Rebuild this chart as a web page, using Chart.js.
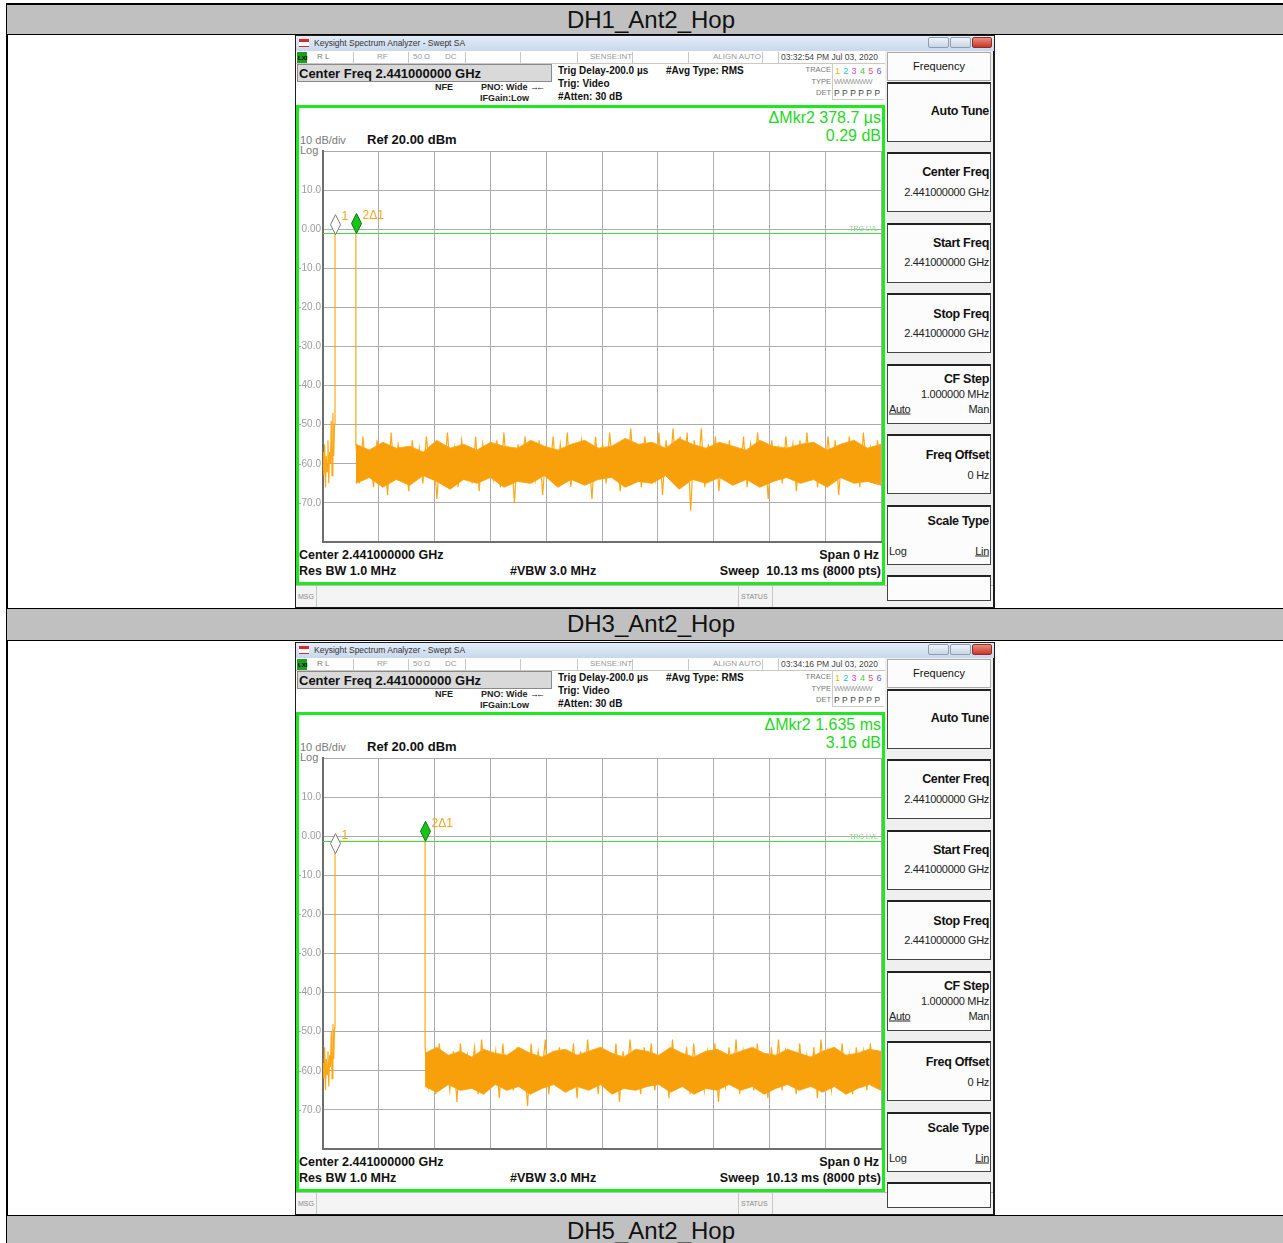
<!DOCTYPE html>
<html>
<head>
<meta charset="utf-8">
<script src="https://cdn.jsdelivr.net/npm/chart.js@4.4.1/dist/chart.umd.min.js"></script>
<style>
body { margin:0; width:1283px; height:1243px; overflow:hidden; background:#fff; position:relative; font-family:"Liberation Sans", Arial, sans-serif; }
.abs { position:absolute; white-space:nowrap; line-height:1; }
.box { position:absolute; box-sizing:border-box; }
.hdr { position:absolute; left:6px; width:1290px; background:#c0c0c0; border:1px solid #000; box-sizing:border-box; text-align:center; font-size:24px; line-height:30px; color:#111; }
.shot { position:absolute; left:295px; width:700px; height:573px; background:#1d1d1d; overflow:hidden; }
.shot canvas { position:absolute; left:3px; top:75px; }
</style>
</head>
<body>
<div class="box" style="left:6px;top:3px;width:2px;height:1240px;background:#000"></div>
<div class="hdr" style="top:3px;height:32px;border-top-width:2px;line-height:29px">DH1_Ant2_Hop</div>
<div class="hdr" style="top:608px;height:33px">DH3_Ant2_Hop</div>
<div class="hdr" style="top:1215px;height:40px">DH5_Ant2_Hop</div>

<script>
// time axis in ms: trig delay -200 us, sweep 10.13 ms; amplitude in dBm, Ref 20 dBm, 10 dB/div
const sweepStart = -0.2;
const sweepEnd = 9.93;
const refLevel = 20;
const bottomLevel = -80;

// DH1 trace
const dh1PreTimes = [-0.2, -0.185, -0.17, -0.155, -0.14, -0.125, -0.11, -0.095, -0.08, -0.065, -0.05, -0.035, -0.02, -0.005, 0.01];
const dh1PreLevels = [-57, -63, -55, -66, -58, -62, -54, -65, -57, -60, -49, -63, -47, -58, -50];
const dh1BurstStart = 0.018;
const dh1BurstEnd = 0.3967;
const dh1Plateau = -1.1;
const dh1Noise = [
  -55, -65, -53, -63, -57, -66, -54, -62, -56, -68,
  -52, -64, -55, -61, -58, -67, -54, -63, -56, -65,
  -53, -62, -57, -69, -55, -63, -52, -64, -56, -66,
  -54, -61, -57, -65, -53, -67, -55, -62, -58, -64,
  -54, -66, -52, -63, -56, -70, -55, -62, -53, -65,
  -57, -64, -54, -68, -56, -62, -53, -65, -55, -63,
  -52, -66, -56, -62, -54, -64, -57, -69, -53, -63,
  -55, -65, -52, -62, -56, -67, -54, -63, -51, -64,
  -55, -66, -53, -62, -57, -64, -52, -68, -54, -63,
  -51, -65, -53, -62, -52, -72, -54, -63, -51, -66,
  -55, -64, -53, -67, -56, -62, -54, -65, -57, -63,
  -53, -66, -55, -62, -52, -64, -56, -69, -54, -63,
  -56, -65, -53, -62, -55, -67, -54, -63, -52, -64,
  -55, -66, -57, -62, -53, -65, -54, -68, -56, -63,
  -53, -64, -55, -66, -52, -62, -56, -65, -54, -63
];
const dh1NoiseTop = [
  -55, -56.5, -54.5, -56, -55.5, -57, -54, -56, -55, -56.5,
  -54.5, -55.5, -56, -54, -55.5, -56.5, -55, -54, -56, -55.5,
  -53.5, -55, -54.5, -56, -53.5, -55, -56, -54.5, -55.5, -56.5,
  -54, -55.5, -56, -55, -54.5, -56.5, -55, -54, -56, -55
];
const dh1NoiseBottom = [
  -65, -63.5, -66, -64, -65.5, -63, -64.5, -66.5, -64, -65,
  -63.5, -66, -64.5, -65, -63, -66, -64, -65.5, -64, -63.5,
  -66, -64.5, -65, -63, -66.5, -64, -65, -63.5, -65.5, -64,
  -66, -64.5, -63.5, -65, -64, -66, -63.5, -65, -64.5, -65.5
];
const dh1MarkerTimes = [0.018, 0.3967];
const dh1MarkerLevels = [-1.4, -1.1];
const dh1TrigLevel = -0.9;

// DH3 trace
const dh3PreTimes = [-0.2, -0.185, -0.17, -0.155, -0.14, -0.125, -0.11, -0.095, -0.08, -0.065, -0.05, -0.035, -0.02, -0.005, 0.01];
const dh3PreLevels = [-58, -62, -54, -65, -57, -61, -55, -64, -56, -59, -50, -62, -48, -57, -49];
const dh3BurstStart = 0.018;
const dh3BurstEnd = 1.653;
const dh3Plateau = -1.3;
const dh3Noise = [
  -54, -64, -56, -66, -53, -62, -57, -65, -55, -68,
  -53, -63, -56, -61, -54, -66, -52, -64, -57, -62,
  -55, -67, -53, -63, -56, -65, -54, -62, -57, -69,
  -53, -64, -55, -62, -52, -66, -56, -63, -54, -65,
  -57, -62, -53, -67, -55, -64, -52, -63, -56, -66,
  -54, -62, -57, -65, -53, -68, -55, -63, -52, -64,
  -56, -66, -54, -62, -53, -65, -57, -63, -55, -67,
  -52, -64, -56, -62, -54, -66, -53, -63, -57, -65,
  -55, -62, -53, -68, -56, -64, -54, -63, -52, -66,
  -55, -62, -57, -65, -53, -64, -56, -67, -54, -63,
  -52, -65, -55, -62, -57, -66, -53, -64, -56, -63,
  -54, -67, -52, -62, -55, -65, -57, -63, -53, -64,
  -56, -66, -54, -62, -55, -65, -53, -63, -56, -64
];
const dh3NoiseTop = [
  -55.5, -54, -56, -55, -56.5, -54.5, -55.5, -56, -54, -55.5,
  -56.5, -55, -54.5, -56, -55, -54, -55.5, -56.5, -54.5, -55,
  -56, -54, -55.5, -56.5, -55, -54.5, -56, -55, -54, -55.5,
  -56, -54.5, -55.5, -56.5, -55, -54, -56, -55.5, -54.5, -55
];
const dh3NoiseBottom = [
  -64, -65.5, -63.5, -65, -64.5, -66, -63.5, -65, -64, -66,
  -64.5, -63.5, -65.5, -64, -65, -63.5, -66, -64.5, -65, -64,
  -63.5, -65.5, -64, -66, -64.5, -65, -63.5, -65, -64, -66,
  -64.5, -63.5, -65, -64, -65.5, -64, -66, -64.5, -63.5, -65
];
const dh3MarkerTimes = [0.018, 1.653];
const dh3MarkerLevels = [-4.46, -1.3];
const dh3TrigLevel = -1.2;

function txt(parent, x, y, s, css, align) {
    const el = document.createElement('div');
    el.className = 'abs';
    el.textContent = s;
    el.style.cssText += css;
    el.style.left = x + 'px';
    el.style.top = y + 'px';
    const tx = align === 'r' ? 'translateX(-100%) ' : align === 'c' ? 'translateX(-50%) ' : '';
    el.style.transform = tx + 'translateY(-50%)';
    parent.appendChild(el);
    return el;
}

function box(parent, x, y, w, h, css) {
    const el = document.createElement('div');
    el.className = 'box';
    el.style.cssText = `left:${x}px;top:${y}px;width:${w}px;height:${h}px;` + css;
    parent.appendChild(el);
    return el;
}

function softkey(p, y, h, title, titleY, lines) {
    box(p, 592, y, 104, h, 'background:#fcfcfc;border:1px solid #444;border-top:2px solid #222');
    txt(p, 694, titleY, title, 'font-size:12.5px;font-weight:bold;color:#111;letter-spacing:-0.3px', 'r');
    lines.forEach(l => {
        const el = txt(p, l[0], l[1], l[2], 'font-size:11px;color:#222;letter-spacing:-0.3px', l[3]);
        if (l[4]) el.style.textDecoration = 'underline';
    });
}

// builds the analyzer window around the plot, returns the canvas
function buildShot(top, stamp, readTime, readLevel) {
    const s = document.createElement('div');
    s.className = 'shot';
    s.style.top = top + 'px';
    document.body.appendChild(s);

    // title bar
    box(s, 1, 1, 698, 15, 'background:linear-gradient(#e4edf8,#c8d8ed)');
    box(s, 4, 4, 10, 8, 'background:#fff;border-top:3px solid #d42a2a;border-bottom:1px solid #d42a2a');
    txt(s, 19, 8, 'Keysight Spectrum Analyzer - Swept SA', 'font-size:8.5px;color:#333');
    box(s, 633, 2, 21, 11, 'background:linear-gradient(#eef3fa,#c9d6e6);border:1px solid #8e9db0;border-radius:2px');
    box(s, 655, 2, 21, 11, 'background:linear-gradient(#eef3fa,#c9d6e6);border:1px solid #8e9db0;border-radius:2px');
    box(s, 677, 2, 20, 11, 'background:linear-gradient(#e98c7c,#c9372a);border:1px solid #8a3026;border-radius:2px');

    // main panes
    box(s, 1, 16, 589, 556, 'background:#fff');
    box(s, 590, 16, 108, 556, 'background:#efefef');

    // status row
    box(s, 1, 16, 589, 13, 'background:#fff;border-bottom:1px solid #c8c8c8');
    [58, 113, 170, 225, 282, 337, 393, 467, 483].forEach(x => box(s, x, 17, 1, 11, 'background:#c8c8c8'));
    box(s, 2, 17, 10, 11, 'background:#1e9e1e');
    txt(s, 3, 23, 'LXI', 'font-size:6px;font-weight:bold;color:#000');
    txt(s, 22, 22, 'R L', 'font-size:8px;color:#777');
    txt(s, 82, 22, 'RF', 'font-size:8px;color:#999');
    txt(s, 118, 22, '50 \u03a9', 'font-size:8px;color:#999');
    txt(s, 150, 22, 'DC', 'font-size:8px;color:#999');
    txt(s, 295, 22, 'SENSE:INT', 'font-size:8px;color:#999');
    txt(s, 418, 22, 'ALIGN AUTO', 'font-size:8px;color:#999');
    txt(s, 486, 22, stamp, 'font-size:8.5px;color:#444');

    // setting texts
    box(s, 2, 29, 255, 18, 'background:#d9d9d9;border:1px solid #8a8a8a');
    txt(s, 4, 38, 'Center Freq 2.441000000 GHz', 'font-size:13px;font-weight:bold;color:#111');
    txt(s, 140, 52, 'NFE', 'font-size:9px;font-weight:bold;color:#222');
    txt(s, 186, 52, 'PNO: Wide', 'font-size:9px;font-weight:bold;color:#222');
    txt(s, 235, 52, '\u2192\u2190', 'font-size:9px;color:#222;letter-spacing:-3px');
    txt(s, 185, 63, 'IFGain:Low', 'font-size:9px;font-weight:bold;color:#222');
    txt(s, 263, 36, 'Trig Delay-200.0 \u00b5s', 'font-size:10px;font-weight:bold;color:#111');
    txt(s, 263, 49, 'Trig: Video', 'font-size:10px;font-weight:bold;color:#111');
    txt(s, 263, 62, '#Atten: 30 dB', 'font-size:10px;font-weight:bold;color:#111');
    txt(s, 371, 36, '#Avg Type: RMS', 'font-size:10px;font-weight:bold;color:#111');

    // trace info
    box(s, 537, 29, 52, 36, 'border-left:1px solid #ccc;border-bottom:1px solid #ccc');
    txt(s, 536, 35, 'TRACE', 'font-size:7.5px;color:#777', 'r');
    txt(s, 536, 47, 'TYPE', 'font-size:7.5px;color:#777', 'r');
    txt(s, 536, 58, 'DET', 'font-size:7.5px;color:#777', 'r');
    const traceCols = ['#efb000', '#17c4e0', '#e040d8', '#3ccc3c', '#e8506a', '#6a5ae0'];
    traceCols.forEach((c, i) => txt(s, 540 + i * 8.3, 36, String(i + 1), `font-size:9px;color:${c}`));
    txt(s, 539, 47, 'WWWWWW', 'font-size:7.5px;color:#999;letter-spacing:-0.8px');
    txt(s, 539, 58, 'P P P P P P', 'font-size:8.5px;color:#444;letter-spacing:0.1px');

    // measurement area
    box(s, 1, 70, 589, 480, 'border:3px solid #1ee81e');
    txt(s, 586, 83, readTime, 'font-size:16px;color:#25d625', 'r');
    txt(s, 586, 101, readLevel, 'font-size:16px;color:#25d625', 'r');
    txt(s, 5, 105, '10 dB/div', 'font-size:11px;color:#7a7a7a');
    txt(s, 5, 115, 'Log', 'font-size:11px;color:#7a7a7a');
    txt(s, 72, 104, 'Ref 20.00 dBm', 'font-size:13px;font-weight:bold;color:#111');
    txt(s, 4, 520, 'Center 2.441000000 GHz', 'font-size:12.5px;font-weight:bold;color:#111');
    txt(s, 584, 520, 'Span 0 Hz', 'font-size:12.5px;font-weight:bold;color:#111', 'r');
    txt(s, 4, 536, 'Res BW 1.0 MHz', 'font-size:12.5px;font-weight:bold;color:#111');
    txt(s, 215, 536, '#VBW 3.0 MHz', 'font-size:12.5px;font-weight:bold;color:#111');
    txt(s, 586, 536, 'Sweep  10.13 ms (8000 pts)', 'font-size:12.5px;font-weight:bold;color:#111;white-space:pre', 'r');

    // message bar
    box(s, 1, 550, 697, 22, 'background:#f4f4f4;border-top:1px solid #bdbdbd');
    [21, 443, 477].forEach(x => box(s, x, 551, 1, 21, 'background:#c8c8c8'));
    txt(s, 3, 561, 'MSG', 'font-size:7px;color:#888');
    txt(s, 446, 561, 'STATUS', 'font-size:7px;color:#888');

    // softkeys
    box(s, 592, 17, 104, 29, 'background:#fcfcfc;border:1px solid #aaa');
    txt(s, 644, 31, 'Frequency', 'font-size:11px;color:#111', 'c');
    softkey(s, 47, 60, 'Auto Tune', 76, []);
    softkey(s, 117, 60, 'Center Freq', 137, [[694, 157, '2.441000000 GHz', 'r']]);
    softkey(s, 188, 60, 'Start Freq', 208, [[694, 227, '2.441000000 GHz', 'r']]);
    softkey(s, 258, 60, 'Stop Freq', 279, [[694, 298, '2.441000000 GHz', 'r']]);
    softkey(s, 329, 60, 'CF Step', 344, [[694, 359, '1.000000 MHz', 'r'], [594, 374, 'Auto', '', true], [694, 374, 'Man', 'r']]);
    softkey(s, 399, 60, 'Freq Offset', 420, [[694, 440, '0 Hz', 'r']]);
    softkey(s, 470, 60, 'Scale Type', 486, [[594, 516, 'Log', ''], [694, 516, 'Lin', 'r', true]]);
    box(s, 592, 540, 104, 26, 'background:#fcfcfc;border:1px solid #444;border-top:2px solid #222');

    const c = document.createElement('canvas');
    c.width = 586;
    c.height = 440;
    s.appendChild(c);
    return c;
}

function evenTimes(t0, t1, n) {
    return Array.from({ length: n }, (_, i) => t0 + i * (t1 - t0) / (n - 1));
}

function buildTrace(preTimes, preLevels, burstStart, burstEnd, plateau, noise) {
    const pts = preTimes.map((t, i) => ({ x: t, y: preLevels[i] }));
    pts.push({ x: burstStart, y: preLevels[preLevels.length - 1] });
    pts.push({ x: burstStart, y: plateau });
    pts.push({ x: burstEnd, y: plateau });
    const times = evenTimes(burstEnd, sweepEnd, noise.length);
    noise.forEach((v, i) => pts.push({ x: times[i], y: v }));
    return pts;
}

function markerPlugin(times, levels, trig) {
    return {
        id: 'markers',
        afterDatasetsDraw(chart) {
            const { ctx, chartArea, scales: { x, y } } = chart;
            ctx.save();
            const ty = Math.round(y.getPixelForValue(trig)) + 0.5;
            ctx.strokeStyle = '#3fdc3f';
            ctx.lineWidth = 1;
            ctx.beginPath();
            ctx.moveTo(chartArea.left, ty);
            ctx.lineTo(chartArea.right, ty);
            ctx.stroke();
            ctx.fillStyle = '#86d886';
            ctx.font = '7px "Liberation Sans"';
            ctx.textAlign = 'right';
            ctx.textBaseline = 'bottom';
            ctx.fillText('TRG LVL', chartArea.right - 3, ty - 1);

            const names = ['1', '2\u03941'];
            times.forEach((t, i) => {
                const px = Math.round(x.getPixelForValue(t)) + 0.5;
                const tip = y.getPixelForValue(levels[i]);
                ctx.beginPath();
                ctx.moveTo(px, tip);
                ctx.lineTo(px + 5, tip - 10);
                ctx.lineTo(px, tip - 20);
                ctx.lineTo(px - 5, tip - 10);
                ctx.closePath();
                ctx.fillStyle = i ? '#17c417' : '#ffffff';
                ctx.fill();
                ctx.strokeStyle = i ? '#0c7a0c' : '#7a7a7a';
                ctx.stroke();
                ctx.fillStyle = '#f5a41c';
                ctx.font = '12px "Liberation Sans"';
                ctx.textAlign = 'left';
                ctx.textBaseline = 'middle';
                ctx.fillText(names[i], px + 6, tip - 18);
            });
            ctx.restore();
        }
    };
}

function renderTrace(canvas, trace, bandTop, bandBottom, burstEnd, plugin) {
    const bandTimes = evenTimes(burstEnd, sweepEnd, bandTop.length);
    const divisions = evenTimes(sweepStart, sweepEnd, 11);
    const gridColor = '#acacac';
    return new Chart(canvas, {
        type: 'line',
        data: {
            datasets: [{
                data: bandTimes.map((t, i) => ({ x: t, y: bandTop[i] })),
                borderWidth: 1,
                borderColor: 'rgba(250,168,30,0.9)',
                backgroundColor: 'rgb(248,160,10)',
                fill: '+1',
                pointRadius: 0
            }, {
                data: bandTimes.map((t, i) => ({ x: t, y: bandBottom[i] })),
                borderWidth: 1,
                borderColor: 'rgba(250,168,30,0.9)',
                pointRadius: 0,
                fill: false
            }, {
                data: trace,
                borderColor: 'rgba(255,163,10,0.95)',
                borderWidth: 1.2,
                pointRadius: 0,
                tension: 0,
                fill: false
            }]
        },
        options: {
            animation: false,
            responsive: false,
            events: [],
            layout: { padding: { top: 41, right: 3, bottom: 6, left: 0 } },
            plugins: { legend: { display: false }, tooltip: { enabled: false } },
            scales: {
                x: {
                    type: 'linear',
                    min: sweepStart,
                    max: sweepEnd,
                    afterBuildTicks: s => { s.ticks = divisions.map(v => ({ value: v })); },
                    afterFit: s => { s.height = 0; },
                    ticks: { display: false },
                    grid: { color: gridColor, drawTicks: false },
                    border: { color: '#6e6e6e', width: 2 }
                },
                y: {
                    min: bottomLevel,
                    max: refLevel,
                    afterFit: s => { s.width = 25; },
                    ticks: {
                        stepSize: 10,
                        padding: 2,
                        color: '#9c9c9c',
                        font: { size: 10, family: 'Liberation Sans' },
                        callback: v => (v === refLevel || v === bottomLevel) ? '' : (v === 0 ? '0.00' : v.toFixed(1))
                    },
                    grid: { color: gridColor, drawTicks: false },
                    border: { color: '#6e6e6e', width: 2 }
                }
            }
        },
        plugins: [plugin]
    });
}

const c1 = buildShot(35, '03:32:54 PM Jul 03, 2020', '\u0394Mkr2 378.7 \u00b5s', '0.29 dB');
renderTrace(c1,
    buildTrace(dh1PreTimes, dh1PreLevels, dh1BurstStart, dh1BurstEnd, dh1Plateau, dh1Noise),
    dh1NoiseTop, dh1NoiseBottom, dh1BurstEnd,
    markerPlugin(dh1MarkerTimes, dh1MarkerLevels, dh1TrigLevel));

const c2 = buildShot(642, '03:34:16 PM Jul 03, 2020', '\u0394Mkr2 1.635 ms', '3.16 dB');
renderTrace(c2,
    buildTrace(dh3PreTimes, dh3PreLevels, dh3BurstStart, dh3BurstEnd, dh3Plateau, dh3Noise),
    dh3NoiseTop, dh3NoiseBottom, dh3BurstEnd,
    markerPlugin(dh3MarkerTimes, dh3MarkerLevels, dh3TrigLevel));
</script>
</body>
</html>
